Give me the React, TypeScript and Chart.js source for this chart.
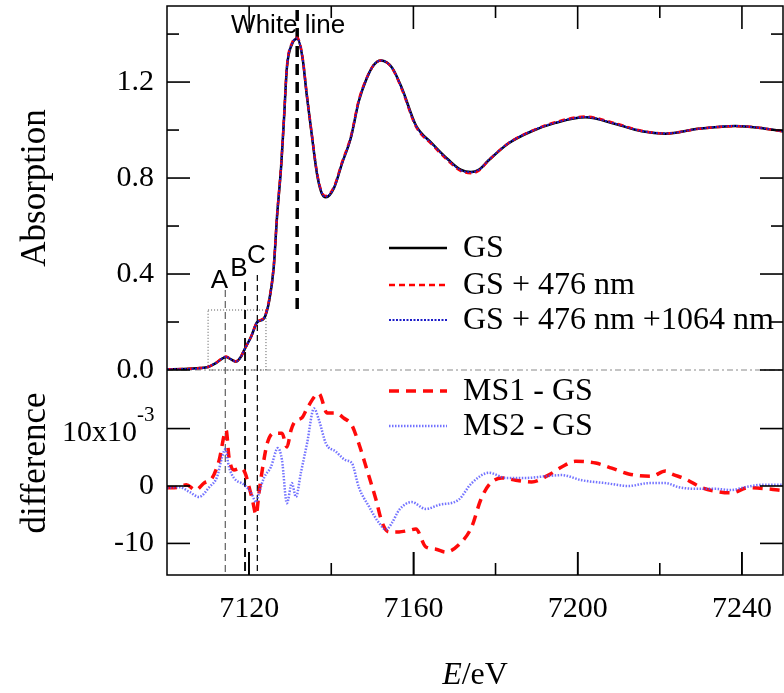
import React, { useEffect, useRef } from "react";
import { Chart, registerables } from "chart.js";

Chart.register(...registerables);

const SERIF = "'Liberation Serif', 'Times New Roman', serif";
const SANS = "'Liberation Sans', Arial, sans-serif";

// ---------- axis ranges & ticks ----------
const xRange = [7100, 7250];
const xMajorTicks = [7120, 7160, 7200, 7240];
const xMinorTicks = [7140, 7180, 7220];
const absRange = [0, 1.517];
const absMajorTicks = [0, 0.4, 0.8, 1.2];
const absMinorTicks = [0.2, 0.6, 1.0, 1.4];
const diffRange = [-15.5, 20.2]; // units of 10^-3
const diffMajorTicks = [-10, 0, 10];

// ---------- absorption spectra ----------
const absEnergy = [7100, 7104, 7108, 7110, 7112, 7114.4, 7115.5, 7116.8, 7118, 7118.8, 7120.5, 7122, 7123.6, 7124.9, 7126, 7126.8, 7127.8, 7128.5, 7129.2, 7130.5, 7131.7, 7133, 7134, 7135.4, 7136.5, 7137.6, 7138.7, 7140.7, 7142.6, 7144.8, 7146.7, 7148.5, 7150.3, 7152.1, 7154.8, 7157.3, 7160.6, 7164.5, 7168.6, 7171.5, 7174, 7176, 7178.4, 7183.2, 7188.8, 7194.6, 7201.9, 7209.2, 7215.6, 7221.4, 7229.4, 7238.4, 7244, 7250];
const gsAbs = [0.003, 0.004, 0.008, 0.013, 0.03, 0.054, 0.045, 0.035, 0.055, 0.083, 0.14, 0.2, 0.215, 0.29, 0.43, 0.64, 0.85, 1.05, 1.26, 1.36, 1.38, 1.3, 1.15, 0.96, 0.82, 0.74, 0.72, 0.76, 0.86, 0.97, 1.12, 1.21, 1.27, 1.29, 1.26, 1.17, 1.02, 0.945, 0.875, 0.835, 0.825, 0.835, 0.875, 0.945, 0.995, 1.03, 1.053, 1.025, 0.995, 0.985, 1.005, 1.017, 1.01, 0.995];
const gs476Abs = [0.003, 0.004, 0.008, 0.013, 0.031, 0.056, 0.046, 0.036, 0.056, 0.083, 0.14, 0.201, 0.218, 0.295, 0.435, 0.645, 0.855, 1.055, 1.265, 1.365, 1.385, 1.305, 1.155, 0.965, 0.825, 0.745, 0.725, 0.765, 0.865, 0.975, 1.125, 1.212, 1.27, 1.29, 1.258, 1.165, 1.015, 0.94, 0.87, 0.83, 0.82, 0.832, 0.875, 0.946, 0.996, 1.033, 1.056, 1.028, 0.997, 0.986, 1.005, 1.016, 1.01, 0.994];
const gs476_1064Abs = [0.003, 0.004, 0.007, 0.013, 0.03, 0.055, 0.045, 0.035, 0.055, 0.083, 0.139, 0.2, 0.216, 0.292, 0.433, 0.643, 0.852, 1.052, 1.262, 1.362, 1.382, 1.302, 1.153, 0.963, 0.823, 0.743, 0.722, 0.761, 0.86, 0.97, 1.12, 1.21, 1.27, 1.29, 1.259, 1.168, 1.018, 0.943, 0.873, 0.833, 0.824, 0.835, 0.876, 0.946, 0.996, 1.031, 1.054, 1.026, 0.996, 0.986, 1.005, 1.017, 1.01, 0.995];

// ---------- difference spectra (x10^-3) ----------
const ms1Energy = [7100, 7103, 7104.7, 7107, 7109, 7111, 7112.7, 7114.4, 7115.1, 7116.3, 7118, 7119, 7120, 7120.8, 7121.7, 7122.4, 7123.2, 7124.4, 7126, 7128, 7129.2, 7130.2, 7131, 7133, 7134.1, 7137, 7139, 7141.1, 7143.1, 7145, 7146.7, 7148.7, 7150.9, 7152.4, 7154, 7156.5, 7158.5, 7160.6, 7163, 7165.5, 7167.9, 7171.8, 7174.2, 7176.4, 7178.4, 7181.5, 7184.9, 7188.8, 7192.9, 7196.1, 7199.5, 7204.4, 7208.3, 7212.4, 7218, 7221.4, 7222.9, 7226.3, 7230.2, 7234.3, 7237.4, 7241.6, 7246.4, 7250];
const ms1MinusGs = [-0.3, -0.2, 0.2, -0.7, 0.5, 1.4, 4.5, 9.7, 5, 2.8, 3.1, 2.3, -0.2, -2.4, -5, -1.2, 2.8, 7.4, 9.2, 9.2, 6.8, 9.7, 11.1, 12, 13.5, 16.1, 12.7, 12.7, 11.8, 10.6, 7.4, 2.8, -2.4, -6.4, -8, -8, -7.8, -7.5, -10.6, -11, -11.5, -9.7, -7.1, -2.4, 0.2, 1.4, 1, 0.7, 1.9, 3.3, 4.3, 4, 3.1, 2.1, 1.7, 2.6, 2.1, 1.2, -0.3, -1, -1.2, -0.3, -0.5, -0.8];
const ms2Energy = [7100, 7103, 7105.4, 7107.8, 7110.3, 7112.2, 7113.4, 7114.2, 7115.1, 7116.3, 7118.8, 7120.5, 7121.7, 7122.4, 7123.6, 7125.3, 7127, 7128, 7129.2, 7130.4, 7131.4, 7132.6, 7134.1, 7135.8, 7137, 7138.7, 7141.1, 7143.5, 7145, 7146.7, 7149.2, 7151.6, 7153.3, 7154.8, 7156.5, 7159.6, 7163, 7166.2, 7171, 7174.2, 7178.4, 7182.5, 7187.4, 7192.2, 7196.1, 7201, 7206.8, 7212.4, 7217.3, 7221.4, 7224.6, 7228.7, 7233.6, 7237.4, 7240.8, 7244.8, 7250];
const ms2MinusGs = [-0.3, -0.2, -1, -1.9, -0.2, 1.6, 5, 6.4, 3.3, 1.4, 0.2, -1.2, -2.8, -1.2, 1.4, 3.3, 6.6, 4.5, -3, 0.5, -1.9, 2.3, 7.4, 13.5, 11.5, 7.4, 6, 4.5, 4, -0.2, -3.6, -6.4, -7.6, -6.4, -4.2, -2.8, -4, -3.3, -2.4, 0.5, 2.3, 1.4, 1.4, 1.7, 1.9, 1, 0.5, 0, 0.5, 0.5, -0.2, -0.5, -0.5, -0.7, -0.2, 0.2, 0.2];

// ---------- annotation positions (data coords) ----------
const whiteLineE = 7131.7;
const markerA = 7114.2;
const markerB = 7119;
const markerC = 7122;
const zoomBoxE = [7110, 7124.1];
const zoomBoxAbs = [0, 0.25];

const pts = (xs: number[], ys: number[]) => xs.map((x, i) => ({ x, y: ys[i] }));

const seg = (ctx: any, x1: number, y1: number, x2: number, y2: number) => {
  ctx.beginPath();
  ctx.moveTo(x1, y1);
  ctx.lineTo(x2, y2);
  ctx.stroke();
};

function drawTicks(chart: any) {
  const ctx = chart.ctx;
  const xScale = chart.scales.x;
  const ya = chart.scales.yAbs;
  const yd = chart.scales.yDiff;
  const L = xScale.left;
  const R = xScale.right;
  const T = ya.top;
  const B = yd.bottom;
  ctx.save();
  ctx.setLineDash([]);
  ctx.fillStyle = "#000000";
  const W = 1.6;
  // x ticks (vertical marks on bottom and top edges)
  for (let i = 0; i < xMajorTicks.length + xMinorTicks.length; i++) {
    const isMajor = i < xMajorTicks.length;
    const val = isMajor ? xMajorTicks[i] : xMinorTicks[i - xMajorTicks.length];
    const px = Number(xScale.getPixelForValue(Number(val)));
    const len = isMajor ? 23 : 12;
    ctx.fillRect(px - W / 2, B - len, W, len);
    ctx.fillRect(px - W / 2, T, W, len);
  }
  // y ticks (horizontal marks on left and right edges)
  const yTick = (sc: any, v: number, len: number) => {
    const p = sc.getPixelForValue(v);
    ctx.fillRect(L, p - W / 2, len, W);
    ctx.fillRect(R - len, p - W / 2, len, W);
  };
  absMajorTicks.forEach((v) => yTick(ya, v, 23));
  absMinorTicks.forEach((v) => yTick(ya, v, 12));
  diffMajorTicks.forEach((v) => yTick(yd, v, 23));
  // frame
  ctx.strokeStyle = "#000000";
  ctx.lineWidth = 1.5;
  ctx.strokeRect(L, T, R - L, B - T);
  ctx.restore();
}

const decorPlugin = {
  id: "decor",
  beforeDatasetsDraw(chart: any) {
    const ctx = chart.ctx;
    const xs = chart.scales.x;
    const ya = chart.scales.yAbs;
    const yd = chart.scales.yDiff;
    const L = xs.left, R = xs.right;
    ctx.save();
    // zero line (dash-dot)
    ctx.strokeStyle = "#8a8a8a";
    ctx.lineWidth = 1.2;
    ctx.setLineDash([6, 3, 2, 3]);
    const y0 = ya.getPixelForValue(0);
    seg(ctx, L, y0, R, y0);
    // dotted zoom box
    ctx.strokeStyle = "#555";
    ctx.lineWidth = 1;
    ctx.setLineDash([1, 2]);
    const bx1 = xs.getPixelForValue(zoomBoxE[0]);
    const bx2 = xs.getPixelForValue(zoomBoxE[1]);
    const by1 = ya.getPixelForValue(zoomBoxAbs[1]);
    const by2 = ya.getPixelForValue(zoomBoxAbs[0]);
    ctx.strokeRect(bx1, by1, bx2 - bx1, by2 - by1);
    // marker lines
    const vline = (e: number, top: number, color: string, w: number, dash: number[]) => {
      const px = xs.getPixelForValue(e);
      ctx.strokeStyle = color;
      ctx.lineWidth = w;
      ctx.setLineDash(dash);
      seg(ctx, px, top, px, yd.getPixelForValue(-15.2));
    };
    vline(markerA, ya.getPixelForValue(0.333), "#6a6a6a", 1.3, [7, 4]);
    vline(markerB, ya.getPixelForValue(0.367), "#111", 2, [9, 5]);
    vline(markerC, ya.getPixelForValue(0.396), "#111", 1.3, [6, 4]);
    // White line
    const wx = xs.getPixelForValue(whiteLineE);
    ctx.strokeStyle = "#000";
    ctx.lineWidth = 3.5;
    ctx.setLineDash([11, 7]);
    seg(ctx, wx, ya.getPixelForValue(1.5), wx, ya.getPixelForValue(0.25));
    ctx.setLineDash([]);
    // labels
    ctx.fillStyle = "#000";
    ctx.font = `26px ${SANS}`;
    ctx.textAlign = "center";
    ctx.textBaseline = "alphabetic";
    ctx.fillText("White line", wx - 9, ya.getPixelForValue(1.404));
    ctx.fillText("A", xs.getPixelForValue(markerA) - 6, ya.getPixelForValue(0.342));
    ctx.fillText("B", xs.getPixelForValue(markerB) - 6, ya.getPixelForValue(0.392));
    ctx.fillText("C", xs.getPixelForValue(markerC) - 1, ya.getPixelForValue(0.446));
    ctx.restore();
  },
  afterDraw(chart: any) {
    const ctx = chart.ctx;
    const xs = chart.scales.x;
    const yd = chart.scales.yDiff;
    const L = xs.left, R = xs.right;
    drawTicks(chart);
    ctx.save();
    ctx.setLineDash([]);
    ctx.fillStyle = "#000000";

    // 10x10^-3 label
    const p10 = yd.getPixelForValue(10);
    ctx.textBaseline = "middle";
    ctx.textAlign = "right";
    ctx.font = `30px ${SERIF}`;
    ctx.fillText("10x10", 137, p10 + 5);
    ctx.textAlign = "left";
    ctx.font = `21px ${SERIF}`;
    ctx.fillText("-3", 137, p10 - 13);

    // y title for the difference panel
    ctx.save();
    ctx.translate(36, 463);
    ctx.rotate(-Math.PI / 2);
    ctx.textAlign = "center";
    ctx.textBaseline = "middle";
    ctx.font = `35px ${SERIF}`;
    ctx.fillText("difference", 0, 0);
    ctx.restore();

    // x-axis title: E/eV
    ctx.textBaseline = "alphabetic";
    ctx.textAlign = "left";
    ctx.font = `italic 32px ${SERIF}`;
    const wE = ctx.measureText("E").width;
    ctx.font = `32px ${SERIF}`;
    const wRest = ctx.measureText("/eV").width;
    const cx = (L + R) / 2;
    const startX = cx - (wE + wRest) / 2;
    ctx.font = `italic 32px ${SERIF}`;
    ctx.fillText("E", startX, 684);
    ctx.font = `32px ${SERIF}`;
    ctx.fillText("/eV", startX + wE, 684);

    // legends
    const drawLegend = (idxs: number[], rows: number[]) => {
      idxs.forEach((di, k) => {
        const ds = chart.data.datasets[di];
        const y = rows[k];
        ctx.strokeStyle = ds.borderColor;
        ctx.lineWidth = ds.borderWidth;
        ctx.setLineDash(ds.borderDash || []);
        seg(ctx, 389, y, 447, y);
        ctx.setLineDash([]);
        ctx.fillStyle = "#000";
        ctx.font = `32px ${SERIF}`;
        ctx.textAlign = "left";
        ctx.textBaseline = "middle";
        ctx.fillText(ds.label, 463, y + 1);
      });
    };
    drawLegend([0, 1, 2], [248, 285, 320]);
    drawLegend([3, 4], [391, 426]);
    ctx.restore();
  },
};

export default function App() {
  const ref = useRef<HTMLCanvasElement>(null);
  useEffect(() => {
    if (!ref.current) return;
    const chart = new Chart(ref.current, {
      type: "line",
      data: {
        datasets: [
          {
            label: "GS",
            data: pts(absEnergy, gsAbs),
            borderColor: "#000000",
            borderWidth: 2.5,
            borderDash: [],
            yAxisID: "yAbs",
            order: 2,
          },
          {
            label: "GS + 476 nm",
            data: pts(absEnergy, gs476Abs),
            borderColor: "#ff0000",
            borderWidth: 2.5,
            borderDash: [6, 4],
            yAxisID: "yAbs",
            order: 1,
          },
          {
            label: "GS + 476 nm +1064 nm",
            data: pts(absEnergy, gs476_1064Abs),
            borderColor: "#1c1cc8",
            borderWidth: 2,
            borderDash: [2, 1.5],
            yAxisID: "yAbs",
            order: 0,
          },
          {
            label: "MS1 - GS",
            data: pts(ms1Energy, ms1MinusGs),
            borderColor: "#ff0a0a",
            borderWidth: 3.5,
            borderDash: [10, 7],
            yAxisID: "yDiff",
            order: 4,
          },
          {
            label: "MS2 - GS",
            data: pts(ms2Energy, ms2MinusGs),
            borderColor: "rgba(80,80,255,0.8)",
            borderWidth: 2.5,
            borderDash: [1.5, 1.5],
            yAxisID: "yDiff",
            order: 3,
          },
        ],
      },
      options: {
        responsive: false,
        animation: false,
        devicePixelRatio: 1,
        layout: { padding: { top: 6, right: 1, left: 0, bottom: 0 } },
        elements: {
          point: { radius: 0 },
          line: { cubicInterpolationMode: "monotone", fill: false },
        },
        plugins: { legend: { display: false }, tooltip: { enabled: false } },
        scales: {
          x: {
            type: "linear",
            min: xRange[0],
            max: xRange[1],
            grid: {
              display: true,
              drawOnChartArea: false,
              drawTicks: true,
              tickLength: -23,
              color: "#000000",
              lineWidth: 1.6,
            },
            border: { display: false },
            afterBuildTicks: (s: any) => {
              s.ticks = xMajorTicks.map((v) => ({ value: v }));
            },
            afterFit: (s: any) => {
              s.height = 118;
              s.paddingLeft = 0;
              s.paddingRight = 0;
            },
            ticks: {
              autoSkip: false,
              maxRotation: 0,
              padding: 39,
              color: "#000",
              font: { family: SERIF, size: 30 },
              callback: (v: any) => String(v),
            },
          },
          yDiff: {
            type: "linear",
            position: "left",
            stack: "left",
            stackWeight: 205,
            min: diffRange[0],
            max: diffRange[1],
            grid: { display: false },
            border: { display: false },
            afterBuildTicks: (s: any) => {
              s.ticks = diffMajorTicks.map((v) => ({ value: v }));
            },
            afterFit: (s: any) => {
              s.width = 167;
              s.paddingTop = 0;
              s.paddingBottom = 0;
            },
            ticks: {
              padding: 5,
              color: "#000",
              font: { family: SERIF, size: 30 },
              callback: (v: any) => (Number(v) === 10 ? "" : String(v)),
            },
          },
          yAbs: {
            type: "linear",
            position: "left",
            stack: "left",
            stackWeight: 364,
            min: absRange[0],
            max: absRange[1],
            grid: { display: false },
            border: { display: false },
            afterBuildTicks: (s: any) => {
              s.ticks = absMajorTicks.map((v) => ({ value: v }));
            },
            afterFit: (s: any) => {
              s.width = 167;
              s.paddingTop = 0;
              s.paddingBottom = 0;
            },
            ticks: {
              padding: 5,
              color: "#000",
              font: { family: SERIF, size: 30 },
              callback: (v: any) => Number(v).toFixed(1),
            },
            title: {
              display: true,
              text: "Absorption",
              color: "#000",
              font: { family: SERIF, size: 35 },
              padding: { top: 15, bottom: 0 },
            },
          },
        },
      } as any,
      plugins: [decorPlugin],
    });
    return () => chart.destroy();
  }, []);
  return (
    <div style={{ position: "absolute", left: 0, top: 0, width: 784, height: 693, background: "#fff" }}>
      <canvas ref={ref} width={784} height={693} />
    </div>
  );
}
